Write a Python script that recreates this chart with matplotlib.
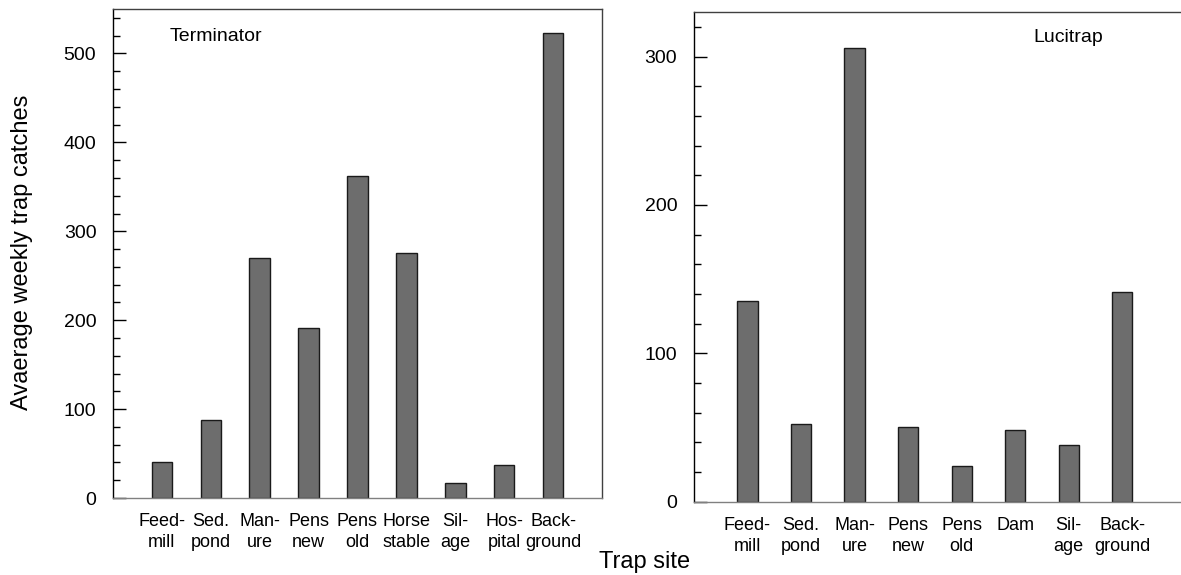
import matplotlib.pyplot as plt
from matplotlib.ticker import MultipleLocator

plt.rcParams['font.family'] = ['Liberation Sans', 'DejaVu Sans']

# Terminator trap data
term_sites = ['Feed-\nmill', 'Sed.\npond', 'Man-\nure', 'Pens\nnew', 'Pens\nold',
              'Horse\nstable', 'Sil-\nage', 'Hos-\npital', 'Back-\nground']
term_catches = [41, 88, 270, 191, 362, 276, 17, 37, 523]

# Lucitrap data
luci_sites = ['Feed-\nmill', 'Sed.\npond', 'Man-\nure', 'Pens\nnew', 'Pens\nold',
              'Dam', 'Sil-\nage', 'Back-\nground']
luci_catches = [135, 52, 306, 50, 24, 48, 38, 141]

bar_color = '#6d6d6d'

fig = plt.figure(figsize=(11.81, 5.75), dpi=100)
ax1 = fig.add_axes([0.0957, 0.1339, 0.414, 0.8504])
ax2 = fig.add_axes([0.5876, 0.1278, 0.4124, 0.8513])


def style_axis(ax, sites, catches, xmax, ymax, width):
    x = range(1, len(catches) + 1)
    ax.bar(x, catches, width=width, color=bar_color, edgecolor='#1a1a1a', linewidth=1.0)
    ax.set_xlim(0, xmax)
    ax.set_ylim(0, ymax)
    ax.set_xticks(list(x))
    ax.set_xticklabels(sites, fontsize=13, linespacing=1.3)
    ax.tick_params(axis='x', length=0, pad=11)
    ax.yaxis.set_major_locator(MultipleLocator(100))
    ax.yaxis.set_minor_locator(MultipleLocator(20))
    ax.tick_params(axis='y', which='major', direction='in', length=9, width=1,
                   labelsize=14, pad=12)
    ax.tick_params(axis='y', which='minor', direction='in', length=5, width=1)
    ax.spines['left'].set_color('black')
    ax.spines['bottom'].set_color('#808080')
    ax.spines['top'].set_color('#404040')
    ax.spines['right'].set_color('#404040')
    for s in ax.spines.values():
        s.set_linewidth(1.0)


style_axis(ax1, term_sites, term_catches, 10, 550, 0.42)
style_axis(ax2, luci_sites, luci_catches, 9.1, 330, 0.375)
ax2.spines['right'].set_visible(False)

ax1.text(1.15, 519, 'Terminator', fontsize=14, va='center', ha='left')
ax2.text(6.34, 313, 'Lucitrap', fontsize=14, va='center', ha='left')

fig.text(0.0186, 0.562, 'Avaerage weekly trap catches', rotation=90,
         fontsize=17, va='center', ha='center')
fig.text(0.546, 0.023, 'Trap site', fontsize=17, va='center', ha='center')

fig.savefig('out.png', dpi=100)
